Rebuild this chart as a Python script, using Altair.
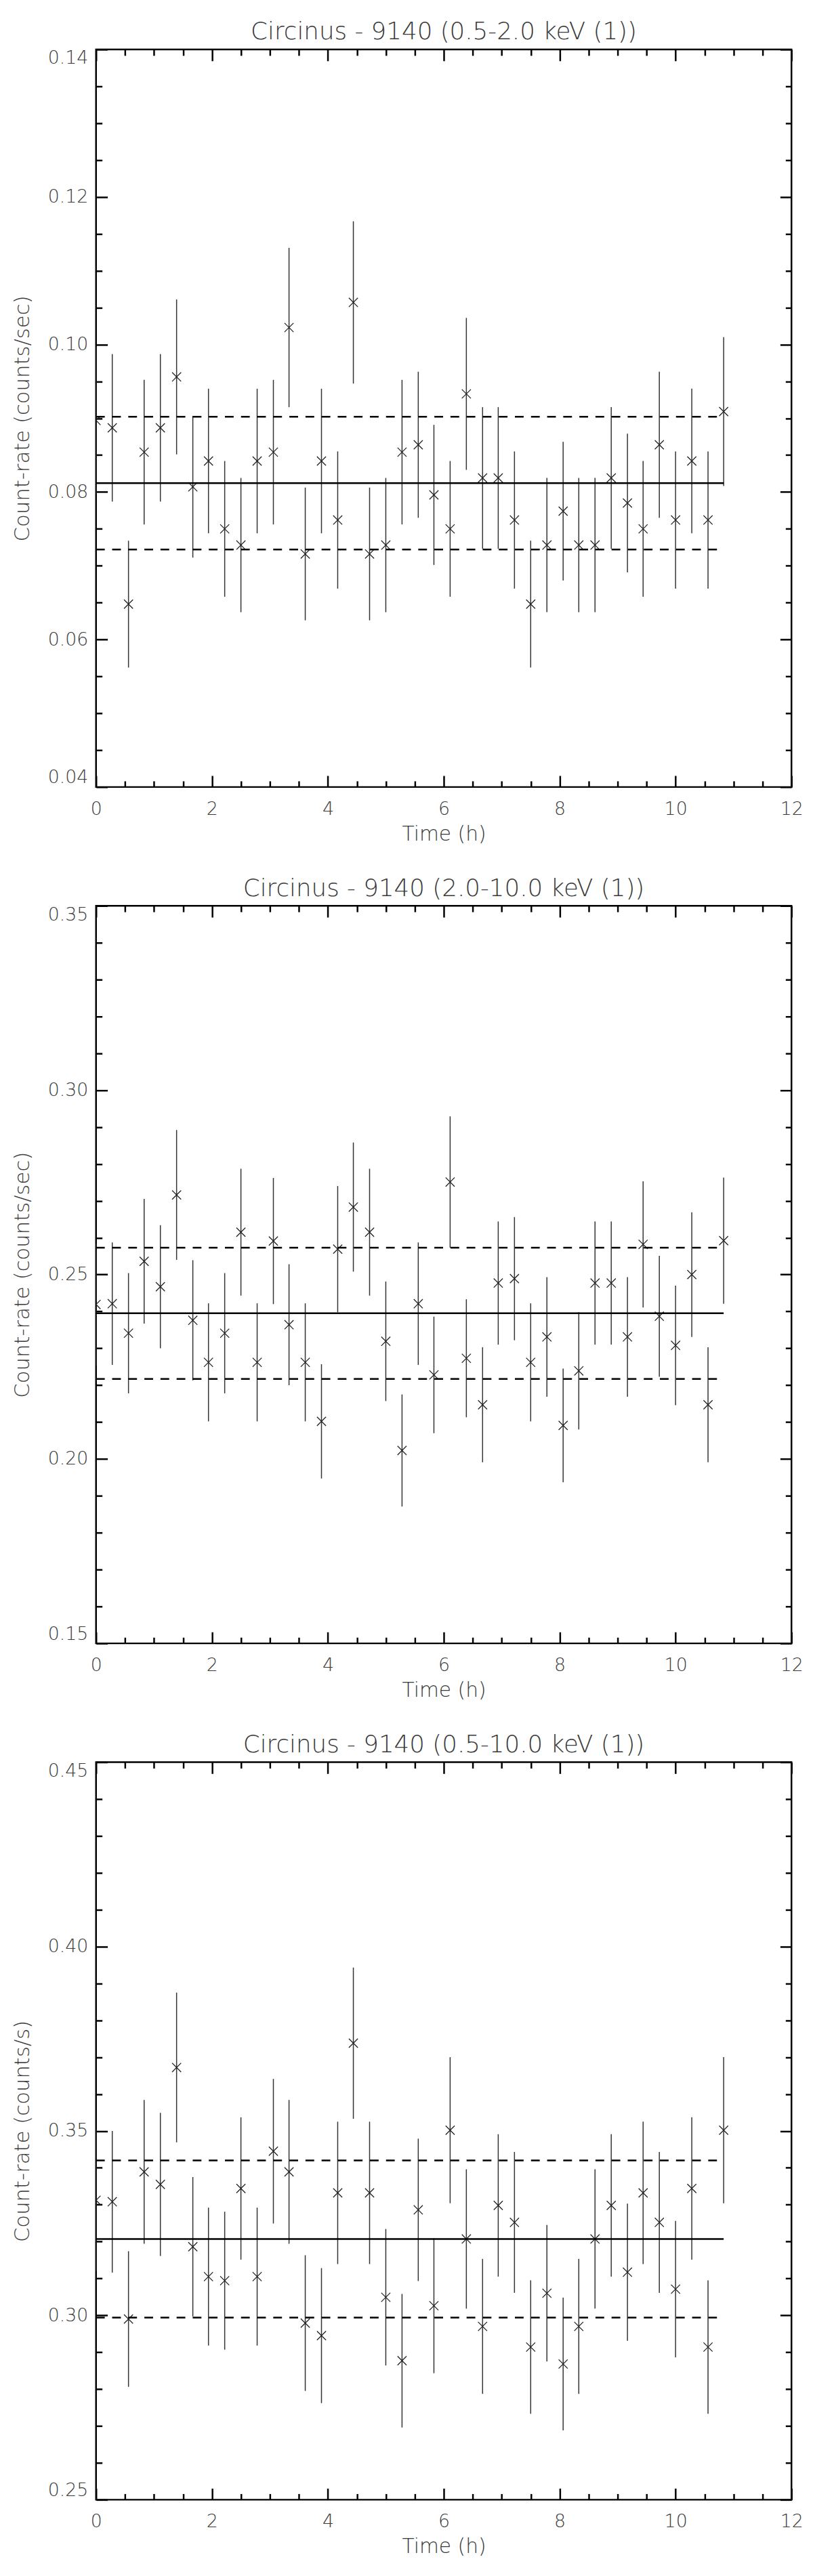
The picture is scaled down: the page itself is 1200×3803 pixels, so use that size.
import altair as alt
import pandas as pd

# ---------------- data ----------------
times = [0.00, 0.28, 0.56, 0.83, 1.11, 1.39, 1.67, 1.94, 2.22, 2.50,
         2.78, 3.06, 3.33, 3.61, 3.89, 4.17, 4.44, 4.72, 5.00, 5.28,
         5.56, 5.83, 6.11, 6.39, 6.67, 6.94, 7.22, 7.50, 7.78, 8.06,
         8.33, 8.61, 8.89, 9.17, 9.44, 9.72, 10.00, 10.28, 10.56, 10.83]

rate_soft = [0.0897, 0.0887, 0.0648, 0.0854, 0.0887, 0.0956, 0.0807, 0.0842, 0.0750, 0.0728,
             0.0842, 0.0854, 0.1023, 0.0716, 0.0842, 0.0762, 0.1057, 0.0716, 0.0728, 0.0854,
             0.0864, 0.0796, 0.0750, 0.0933, 0.0819, 0.0819, 0.0762, 0.0648, 0.0728, 0.0774,
             0.0728, 0.0728, 0.0819, 0.0785, 0.0750, 0.0864, 0.0762, 0.0842, 0.0762, 0.0909]
err_soft = [0.0100, 0.0100, 0.0086, 0.0098, 0.0100, 0.0105, 0.0096, 0.0098, 0.0092, 0.0091,
            0.0098, 0.0098, 0.0108, 0.0090, 0.0098, 0.0093, 0.0110, 0.0090, 0.0091, 0.0098,
            0.0099, 0.0095, 0.0092, 0.0103, 0.0096, 0.0096, 0.0093, 0.0086, 0.0091, 0.0094,
            0.0091, 0.0091, 0.0096, 0.0094, 0.0092, 0.0099, 0.0093, 0.0098, 0.0093, 0.0101]

rate_hard = [0.2419, 0.2421, 0.2341, 0.2536, 0.2467, 0.2716, 0.2376, 0.2262, 0.2341, 0.2615,
             0.2262, 0.2591, 0.2364, 0.2262, 0.2102, 0.2569, 0.2683, 0.2615, 0.2319, 0.2023,
             0.2421, 0.2228, 0.2751, 0.2273, 0.2147, 0.2477, 0.2489, 0.2262, 0.2331, 0.2091,
             0.2239, 0.2477, 0.2477, 0.2331, 0.2582, 0.2387, 0.2308, 0.2500, 0.2147, 0.2592]
err_hard = [0.0166, 0.0166, 0.0163, 0.0169, 0.0167, 0.0176, 0.0163, 0.0160, 0.0163, 0.0172,
            0.0160, 0.0171, 0.0164, 0.0160, 0.0155, 0.0171, 0.0175, 0.0172, 0.0162, 0.0152,
            0.0166, 0.0158, 0.0178, 0.0160, 0.0156, 0.0167, 0.0167, 0.0160, 0.0162, 0.0154,
            0.0159, 0.0167, 0.0167, 0.0162, 0.0171, 0.0164, 0.0162, 0.0169, 0.0156, 0.0171]

rate_full = [0.3312, 0.3308, 0.2990, 0.3389, 0.3355, 0.3672, 0.3186, 0.3105, 0.3094, 0.3344,
             0.3105, 0.3445, 0.3389, 0.2979, 0.2945, 0.3332, 0.3738, 0.3332, 0.3049, 0.2877,
             0.3286, 0.3026, 0.3502, 0.3207, 0.2970, 0.3298, 0.3252, 0.2914, 0.3060, 0.2868,
             0.2970, 0.3207, 0.3298, 0.3117, 0.3332, 0.3252, 0.3071, 0.3344, 0.2914, 0.3502]
err_full = [0.0192, 0.0192, 0.0184, 0.0195, 0.0194, 0.0203, 0.0189, 0.0187, 0.0187, 0.0193,
            0.0187, 0.0196, 0.0195, 0.0184, 0.0183, 0.0193, 0.0205, 0.0193, 0.0185, 0.0181,
            0.0193, 0.0183, 0.0198, 0.0189, 0.0183, 0.0193, 0.0191, 0.0181, 0.0185, 0.0180,
            0.0183, 0.0189, 0.0193, 0.0186, 0.0193, 0.0191, 0.0185, 0.0193, 0.0181, 0.0198]

means = [0.0812, 0.2395, 0.3207]
sigmas = [0.0090, 0.0178, 0.0213]

titles = ["Circinus - 9140 (0.5-2.0 keV (1))",
          "Circinus - 9140 (2.0-10.0 keV (1))",
          "Circinus - 9140 (0.5-10.0 keV (1))"]
ytitles = ["Count-rate (counts/sec)", "Count-rate (counts/sec)", "Count-rate (counts/s)"]
xtitle = "Time (h)"

x_domain = [0, 12]
x_major = [0, 2, 4, 6, 8, 10, 12]
x_minor = [0.5, 1, 1.5, 2.5, 3, 3.5, 4.5, 5, 5.5, 6.5, 7, 7.5, 8.5, 9, 9.5, 10.5, 11, 11.5]

y_domains = [[0.04, 0.14], [0.15, 0.35], [0.25, 0.45]]
y_majors = [[0.04, 0.06, 0.08, 0.10, 0.12, 0.14],
            [0.15, 0.20, 0.25, 0.30, 0.35],
            [0.25, 0.30, 0.35, 0.40, 0.45]]
y_minors = [[0.045, 0.05, 0.055, 0.065, 0.07, 0.075, 0.085, 0.09, 0.095,
             0.105, 0.11, 0.115, 0.125, 0.13, 0.135],
            [0.16, 0.17, 0.18, 0.19, 0.21, 0.22, 0.23, 0.24,
             0.26, 0.27, 0.28, 0.29, 0.31, 0.32, 0.33, 0.34],
            [0.26, 0.27, 0.28, 0.29, 0.31, 0.32, 0.33, 0.34,
             0.36, 0.37, 0.38, 0.39, 0.41, 0.42, 0.43, 0.44]]

# ---------------- style ----------------
FONT = "DejaVu Sans"
FW = 200
TXT = "#3a3a3a"
W, H = 1036, 1099
MAJ, MIN = 17, 9
CROSS = "M-1,-1L1,1M-1,1L1,-1"


def tick_axis(orient, values, size, labels=False, title=None, fmt=None, **kw):
    args = dict(orient=orient, values=values, tickSize=size, offset=-size,
                domain=False, grid=False, labels=labels, ticks=True,
                tickColor="black", tickWidth=2.5, labelFlush=False,
                labelOverlap=False, labelBound=False,
                labelFont=FONT, labelFontSize=27, labelFontWeight=FW, labelColor=TXT,
                titleFont=FONT, titleFontWeight=FW, titleColor=TXT)
    args["title"] = title
    if fmt is not None:
        args["format"] = fmt
    args.update(kw)
    return alt.Axis(**args)


def panel(k, rates, errs):
    df = pd.DataFrame({"t": times, "r": rates, "e": errs})
    df["lo"] = df["r"] - df["e"]
    df["hi"] = df["r"] + df["e"]
    m, s = means[k], sigmas[k]
    mean_df = pd.DataFrame({"t0": [times[0]], "t1": [times[-1]], "y": [m]})
    band_df = pd.DataFrame({"t0": [times[0]] * 2, "t1": [times[-1]] * 2, "y": [m + s, m - s]})

    xs = alt.Scale(domain=x_domain, nice=False, zero=False)
    ys = alt.Scale(domain=y_domains[k], nice=False, zero=False)

    ax_x = tick_axis("bottom", x_major, MAJ, labels=True, title=xtitle, fmt="d",
                     labelPadding=20, titlePadding=9, titleFontSize=30)
    ax_y = tick_axis("left", y_majors[k], MAJ, labels=True, title=ytitles[k], fmt=".2f",
                     labelPadding=12, titlePadding=21, titleFontSize=31, labelFlush=3)

    bars = alt.Chart(df).mark_rule(color="#333333", strokeWidth=1.5, clip=True).encode(
        x=alt.X("t:Q", scale=xs, axis=ax_x),
        y=alt.Y("lo:Q", scale=ys, axis=ax_y),
        y2="hi:Q")
    pts = alt.Chart(df).mark_point(shape=CROSS, size=180, filled=False, color="#222222",
                                   strokeWidth=1.3, opacity=1, clip=True).encode(
        x=alt.X("t:Q", scale=xs, axis=ax_x),
        y=alt.Y("r:Q", scale=ys, axis=ax_y))
    solid = alt.Chart(mean_df).mark_rule(color="black", strokeWidth=2.5).encode(
        x=alt.X("t0:Q", scale=xs, axis=ax_x), x2="t1:Q",
        y=alt.Y("y:Q", scale=ys, axis=ax_y))
    dashed = alt.Chart(band_df).mark_rule(color="black", strokeWidth=2.5,
                                          strokeDash=[13, 11]).encode(
        x=alt.X("t0:Q", scale=xs, axis=ax_x), x2="t1:Q",
        y=alt.Y("y:Q", scale=ys, axis=ax_y))
    main = alt.layer(bars, pts, solid, dashed)

    def ghost(xax, yax):
        return alt.Chart(mean_df).mark_point(opacity=0).encode(
            x=alt.X("t0:Q", scale=xs, axis=xax),
            y=alt.Y("y:Q", scale=ys, axis=yax))

    g1 = ghost(tick_axis("top", x_major, MAJ), tick_axis("right", y_majors[k], MAJ))
    g2 = ghost(tick_axis("bottom", x_minor, MIN), tick_axis("left", y_minors[k], MIN))
    g3 = ghost(tick_axis("top", x_minor, MIN), tick_axis("right", y_minors[k], MIN))

    return alt.layer(main, g1, g2, g3).resolve_scale(
        x="independent", y="independent").properties(
        width=W, height=H,
        title=alt.TitleParams(text=titles[k], fontSize=36, font=FONT, fontWeight=FW,
                              color=TXT, offset=5.5, frame="group", anchor="middle"))


chart = alt.vconcat(
    panel(0, rate_soft, err_soft),
    panel(1, rate_hard, err_hard),
    panel(2, rate_full, err_full),
    spacing=177, bounds="flush"
).properties(
    padding={"top": 3, "left": 8, "right": 5, "bottom": 0},
    background="white"
).configure_view(
    stroke="black", strokeWidth=2.5
)

chart.save("out.html", embed_options={"renderer": "svg", "actions": False})
